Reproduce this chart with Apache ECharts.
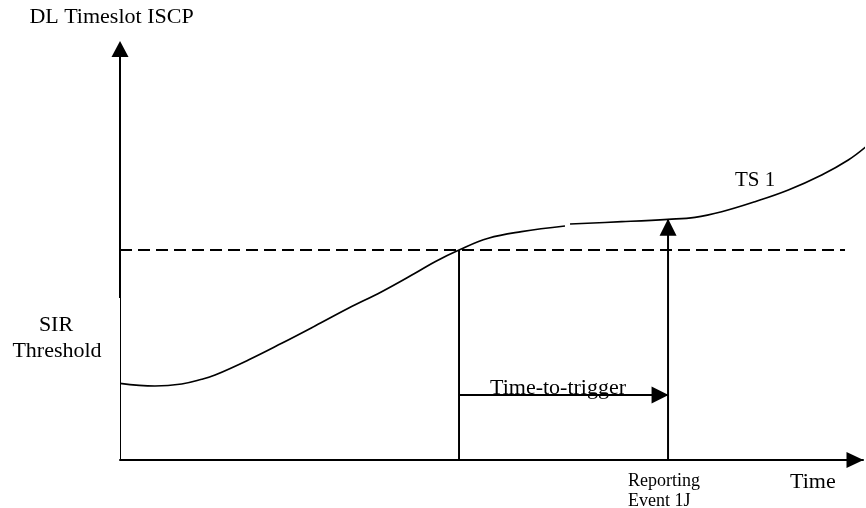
<!DOCTYPE html>
<html>
<head>
<meta charset="utf-8">
<script src="https://cdn.jsdelivr.net/npm/echarts@6/dist/echarts.min.js"></script>
<style>
html,body{margin:0;padding:0;background:#fff;}
#chart{width:866px;height:508px;}
</style>
</head>
<body>
<div id="chart"></div>
<script>
// Curve TS 1 (time and level in arbitrary units 0..100); null = small break in the drawn curve
const curveTime  = [0, 4.71, 8.30, 11.0, 12.79, 17.27, 21.76, 26.24, 30.73, 35.22, 39.70, 42.40, 45.63, 49.57, 54.04, 59.89, 60.2, 60.57, 67.52, 73.76, 77.39, 80.98, 85.46, 89.95, 94.44, 98.02, 100.4];
const curveLevel = [18.66, 18.0, 18.49, 19.64, 20.68, 24.33, 28.39, 32.60, 36.91, 40.95, 45.43, 48.25, 51.1, 53.94, 55.55, 56.93, null, 57.42, 57.98, 58.56, 59.05, 60.41, 62.85, 65.69, 69.34, 72.99, 76.23];

const thresholdLevel = 51.1;   // SIR threshold (dashed line)
const thresholdEnd = 97.58;    // dashed line extent in time
const crossTime = 45.63;       // time the curve crosses the threshold
const reportTime = 73.76;      // reporting event 1J time
const reportLevel = 58.6;      // curve level at reporting time
const triggerLevel = 15.8;     // level where the time-to-trigger arrow is drawn
const yAxisBoldFrom = 39.4;    // y axis drawn heavier above this level

const axisNames = ['Time', 'DL Timeslot ISCP'];
const labelTexts = ['SIR', 'Threshold', 'Time-to-trigger', 'TS 1', 'Reporting', 'Event 1J'];

const FONT = '"Liberation Serif", "Times New Roman", serif';
const chart = echarts.init(document.getElementById('chart'), null, {renderer: 'canvas'});

const curveData = curveTime.map((t, i) => [t, curveLevel[i]]);
const blackLine = (w, extra) => Object.assign({color: '#000', width: w}, extra || {});

function txt(text, x, y, size, align) {
  return {
    type: 'text', x: x, y: y, silent: true,
    style: {
      text: text, fill: '#000',
      font: size + 'px ' + FONT,
      align: align, textAlign: align,
      verticalAlign: 'middle', textVerticalAlign: 'middle'
    }
  };
}

chart.setOption({
  backgroundColor: '#fff',
  animation: false,
  grid: {left: 120, right: 3, top: 49, bottom: 48, containLabel: false},
  xAxis: {
    type: 'value', min: 0, max: 100,
    name: axisNames[0], nameLocation: 'end', nameGap: -73,
    nameTextStyle: {fontFamily: FONT, fontSize: 22, color: '#000', align: 'left', verticalAlign: 'top', lineHeight: 22, padding: [11, 0, 0, 0]},
    axisLine: {show: true, onZero: false, symbol: ['none', 'triangle'], symbolSize: [16, 17], symbolOffset: [0, -8], lineStyle: blackLine(2)},
    axisTick: {show: false}, axisLabel: {show: false}, splitLine: {show: false}
  },
  yAxis: {
    type: 'value', min: 0, max: 100,
    name: axisNames[1], nameLocation: 'end', nameGap: 21,
    nameTextStyle: {fontFamily: FONT, fontSize: 22, color: '#000', align: 'center', verticalAlign: 'bottom', lineHeight: 22, padding: [0, 17, 0, 0]},
    axisLine: {show: true, onZero: false, symbol: ['none', 'triangle'], symbolSize: [17, 16], lineStyle: blackLine(1)},
    axisTick: {show: false}, axisLabel: {show: false}, splitLine: {show: false}
  },
  series: [
    {
      name: 'TS 1', type: 'line', data: curveData, smooth: 0.4, symbol: 'none',
      connectNulls: false, clip: false, lineStyle: blackLine(1.7), z: 5
    },
    {
      name: 'threshold', type: 'line', data: [[0, thresholdLevel], [thresholdEnd, thresholdLevel]],
      symbol: 'none', lineStyle: blackLine(2, {type: [12, 6]}), z: 3
    },
    {
      name: 'crossing', type: 'line', data: [[crossTime, 0], [crossTime, thresholdLevel]],
      symbol: 'none', lineStyle: blackLine(2), z: 3
    },
    {
      name: 'report', type: 'line', data: [[reportTime, 0], [reportTime, reportLevel]],
      symbol: 'none', lineStyle: blackLine(2), z: 3
    },
    {
      name: 'time-to-trigger', type: 'line', data: [[crossTime, triggerLevel], [reportTime, triggerLevel]],
      symbol: 'none', lineStyle: blackLine(2), z: 3
    },
    {
      name: 'y-axis-heavy', type: 'line', data: [[0, yAxisBoldFrom], [0, 100]],
      symbol: 'none', lineStyle: blackLine(2), z: 3
    },
    {
      name: 'arrowheads', type: 'scatter', symbol: 'triangle', symbolSize: 17,
      itemStyle: {color: '#000', opacity: 1}, z: 6, silent: true,
      data: [
        {value: [reportTime, reportLevel], symbolRotate: 0, symbolOffset: [0, 8]},
        {value: [reportTime, triggerLevel], symbolRotate: -90, symbolOffset: [-8, 0]}
      ]
    }
  ],
  graphic: [
    txt(labelTexts[0], 56, 325, 22, 'center'),
    txt(labelTexts[1], 57, 351, 22, 'center'),
    txt(labelTexts[2], 490, 388, 22, 'left'),
    txt(labelTexts[3], 735, 180, 21, 'left'),
    txt(labelTexts[4], 628, 481, 18, 'left'),
    txt(labelTexts[5], 628, 501, 18, 'left')
  ]
});
</script>
</body>
</html>
